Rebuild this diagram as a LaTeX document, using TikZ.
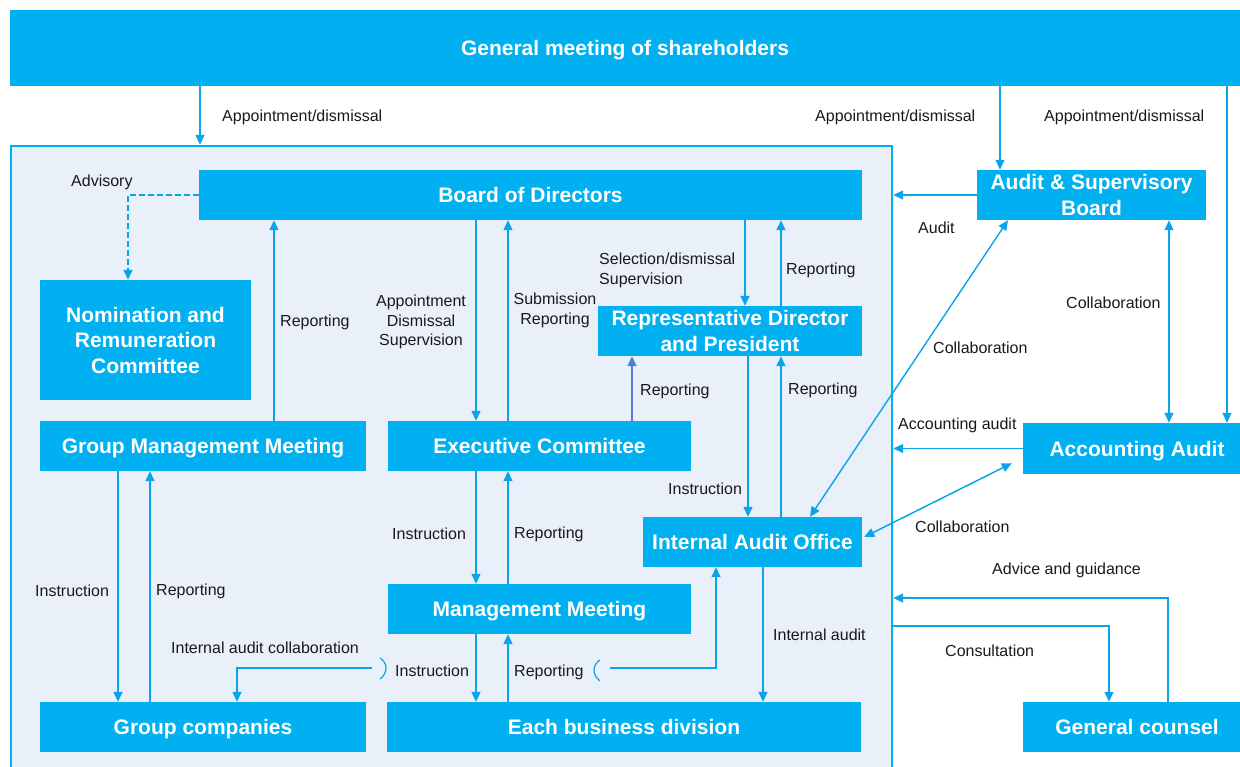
\documentclass[tikz,border=0pt]{standalone}
\usepackage{fontspec}
\setmainfont{Liberation Sans}
\usetikzlibrary{arrows.meta,calc}
\definecolor{boxblue}{RGB}{0,176,240}
\definecolor{lineblue}{RGB}{10,164,234}
\definecolor{darkline}{RGB}{80,128,210}
\definecolor{orgfill}{RGB}{234,240,249}
\begin{document}
\begin{tikzpicture}[x=1pt, y=-1pt, >={Triangle[length=10pt,width=9pt]},
    box/.style={fill=boxblue, text=white, inner sep=0pt, align=center, text depth=0pt,
        font=\fontsize{21}{25.5}\selectfont\bfseries},
    lbl/.style={anchor=west, inner sep=0pt, text=black!90, align=left, yshift=-2pt,
        font=\fontsize{16}{19.5}\selectfont},
    arr/.style={->, draw=lineblue, line width=1.4pt},
    con/.style={draw=lineblue, line width=1.4pt}]
\useasboundingbox (0,0) rectangle (1240,766);
\clip (0,0) rectangle (1240,766);
% frame of the company
\node[draw=boxblue, fill=orgfill, line width=2.4pt, minimum width=881pt, minimum height=634pt, inner sep=0pt] (org) at (451.5,463) {};
% boxes
\node[box, minimum width=1230pt, minimum height=76pt] (gms) at (625,48) {General meeting of shareholders};
\node[box, minimum width=663pt, minimum height=50pt] (bod) at (530.5,195) {Board of Directors};
\node[box, minimum width=211pt, minimum height=120pt] (nrc) at (145.5,340) {Nomination and\\Remuneration\\Committee};
\node[box, minimum width=326pt, minimum height=50pt] (gmm) at (203,446) {Group Management Meeting};
\node[box, minimum width=303pt, minimum height=50pt] (ec) at (539.5,446) {Executive Committee};
\node[box, minimum width=264pt, minimum height=50pt] (rdp) at (730,331) {Representative Director\\and President};
\node[box, minimum width=219pt, minimum height=50pt] (iao) at (752.5,542) {Internal Audit Office};
\node[box, minimum width=303pt, minimum height=50pt] (mm) at (539.5,609) {Management Meeting};
\node[box, minimum width=474pt, minimum height=50pt] (ebd) at (624,727) {Each business division};
\node[box, minimum width=326pt, minimum height=50pt] (grp) at (203,727) {Group companies};
\node[box, minimum width=229pt, minimum height=50pt] (asb) at (1091.5,195) {Audit \& Supervisory\\Board};
\node[box, minimum width=228pt, minimum height=51pt] (aa) at (1137,448.5) {Accounting Audit};
\node[box, minimum width=228pt, minimum height=50pt] (gc) at (1137,727) {General counsel};

% shareholders
\draw[arr] (200,0 |- gms.south) -- (200,0 |- org.north);
\draw[arr] (1000,0 |- gms.south) -- (1000,0 |- asb.north);
\draw[arr] (1227,0 |- gms.south) -- (1227,0 |- aa.north);
\node[lbl] (lapp1) at (222,115) {Appointment/dismissal};
\node[lbl] (lapp2) at (815,115) {Appointment/dismissal};
\node[lbl] (lapp3) at (1044,115) {Appointment/dismissal};

% board of directors
\draw[arr, dash pattern=on 6pt off 3pt] (bod.west) -| (128,0 |- nrc.north);
\node[lbl] (ladv) at (71,180) {Advisory};
\draw[arr] (274,0 |- gmm.north) -- (274,0 |- bod.south);
\node[lbl] (lrep1) at (280,320) {Reporting};
\draw[arr] (476,0 |- bod.south) -- (476,0 |- ec.north);
\draw[arr] (508,0 |- ec.north) -- (508,0 |- bod.south);
\node[lbl, anchor=center, align=center] (lads) at (421,320) {Appointment\\Dismissal\\Supervision};
\node[lbl, anchor=center, align=center] (lsub) at (555,308.5) {Submission\\Reporting};
\draw[arr] (745,0 |- bod.south) -- (745,0 |- rdp.north);
\draw[arr] (781,0 |- rdp.north) -- (781,0 |- bod.south);
\node[lbl] (lsel) at (599,268.5) {Selection/dismissal\\Supervision};
\node[lbl] (lrep2) at (786,268) {Reporting};

% executive line
\draw[arr, draw=darkline] (632,0 |- ec.north) -- (632,0 |- rdp.south);
\node[lbl] (lrep3) at (640,389) {Reporting};
\draw[arr] (748,0 |- rdp.south) -- (748,0 |- iao.north);
\draw[arr] (781,0 |- iao.north) -- (781,0 |- rdp.south);
\node[lbl] (lins1) at (668,487) {Instruction};
\node[lbl] (lrep4) at (788,388) {Reporting};
\draw[arr] (476,0 |- ec.south) -- (476,0 |- mm.north);
\draw[arr] (508,0 |- mm.north) -- (508,0 |- ec.south);
\node[lbl] (lins2) at (392,532) {Instruction};
\node[lbl] (lrep5) at (514,532) {Reporting};
\draw[arr] (476,0 |- mm.south) -- (476,0 |- ebd.north);
\draw[arr] (508,0 |- ebd.north) -- (508,0 |- mm.south);
\node[lbl] (lins3) at (395,669) {Instruction};
\node[lbl] (lrep6) at (514,670) {Reporting};
\draw[arr] (118,0 |- gmm.south) -- (118,0 |- grp.north);
\draw[arr] (150,0 |- grp.north) -- (150,0 |- gmm.south);
\node[lbl] (lins4) at (35,589) {Instruction};
\node[lbl] (lrep7) at (156,589) {Reporting};

% internal audit
\coordinate (iacl) at (372,668);
\coordinate (iacr) at (610,668);
\draw[arr] (iacl) -| (237,0 |- grp.north);
\draw[arr] (iacr) -| (716,0 |- iao.south);
\draw[con, line width=1.2pt] (380,658) .. controls (388,663) and (388,673) .. (380,679);
\draw[con, line width=1.2pt] (600,660) .. controls (592,665) and (592,675) .. (600,681);
\node[lbl] (liac) at (171,646) {Internal audit collaboration};
\draw[arr] (763,0 |- iao.south) -- (763,0 |- ebd.north);
\node[lbl] (lia) at (773,633) {Internal audit};

% auditors
\draw[arr] (asb.west) -- (org.east |- asb.west);
\node[lbl] (laud) at (918,226) {Audit};
\draw[arr, <->] (1169,0 |- asb.south) -- (1169,0 |- aa.north);
\node[lbl] (lcol1) at (1066,301) {Collaboration};
\draw[arr, <->] (810,0 |- iao.north) -- (1008,0 |- asb.south);
\node[lbl] (lcol2) at (933,346) {Collaboration};
\draw[arr] (aa.west) -- (org.east |- aa.west);
\node[lbl] (lacc) at (898,423) {Accounting audit};
\draw[arr, <->] ($(iao.east)+(2,-5)$) -- ($(aa.south west)+(-11,-11)$);
\node[lbl] (lcol3) at (915,525) {Collaboration};

% general counsel
\draw[arr] (1168,0 |- gc.north) |- (org.east |- 0,598);
\node[lbl] (ladg) at (992,568) {Advice and guidance};
\draw[arr] (org.east |- 0,626) -| (1109,0 |- gc.north);
\node[lbl] (lcon) at (945,649) {Consultation};
\end{tikzpicture}
\end{document}
